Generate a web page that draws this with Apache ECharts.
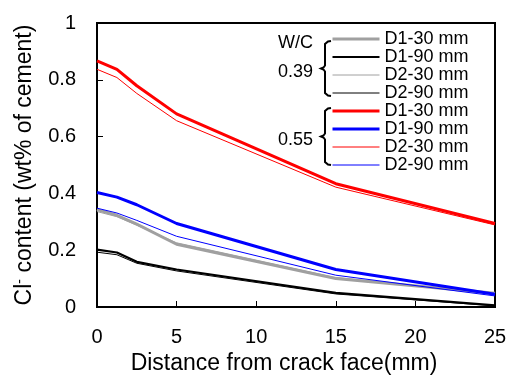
<!DOCTYPE html>
<html>
<head>
<meta charset="utf-8">
<script src="https://cdn.jsdelivr.net/npm/echarts@6/dist/echarts.min.js"></script>
<style>
  html, body { margin: 0; padding: 0; background: #fff; }
  #chart { width: 508px; height: 381px; }
</style>
</head>
<body>
<div id="chart"></div>
<script>
// distance from crack face (mm)
const distance = [0, 1.25, 2.5, 5, 15, 25];
const xTicks = [0, 5, 10, 15, 20, 25];
const yTicks = [0, 0.2, 0.4, 0.6, 0.8, 1];

// W/C 0.39
const d1_30_039 = [0.343, 0.323, 0.292, 0.221, 0.100, 0.048];
const d1_90_039 = [0.202, 0.192, 0.159, 0.132, 0.050, 0.006];
const d2_30_039 = [0.336, 0.318, 0.288, 0.226, 0.104, 0.046];
const d2_90_039 = [0.193, 0.184, 0.154, 0.127, 0.046, 0.004];
// W/C 0.55
const d1_30_055 = [0.867, 0.837, 0.779, 0.680, 0.434, 0.294];
const d1_90_055 = [0.403, 0.387, 0.360, 0.294, 0.132, 0.045];
const d2_30_055 = [0.837, 0.808, 0.752, 0.656, 0.422, 0.289];
const d2_90_055 = [0.348, 0.331, 0.305, 0.249, 0.112, 0.039];

const FONT = 'Arial, "Liberation Sans", sans-serif';

const lines = [
  { name: 'D1-30 mm (0.39)', values: d1_30_039, color: '#a0a0a0', width: 3 },
  { name: 'D1-90 mm (0.39)', values: d1_90_039, color: '#000000', width: 2.2 },
  { name: 'D2-30 mm (0.39)', values: d2_30_039, color: '#a0a0a0', width: 1 },
  { name: 'D2-90 mm (0.39)', values: d2_90_039, color: '#000000', width: 1 },
  { name: 'D1-30 mm (0.55)', values: d1_30_055, color: '#ff0000', width: 3 },
  { name: 'D1-90 mm (0.55)', values: d1_90_055, color: '#0000ff', width: 3 },
  { name: 'D2-30 mm (0.55)', values: d2_30_055, color: '#ff0000', width: 1 },
  { name: 'D2-90 mm (0.55)', values: d2_90_055, color: '#0000ff', width: 1 }
];

// curly brace drawn as a polyline
function brace(x, top, bottom) {
  const mid = (top + bottom) / 2;
  const b = x - 6;
  return [
    [x, top], [x - 3, top + 0.5], [b, top + 3], [b, mid - 3],
    [b - 1.5, mid - 1], [b - 4, mid], [b - 1.5, mid + 1], [b, mid + 3],
    [b, bottom - 3], [x - 3, bottom - 0.5], [x, bottom]
  ];
}

const chart = echarts.init(document.getElementById('chart'), null, { renderer: 'canvas' });

const option = {
  backgroundColor: '#fff',
  animation: false,
  textStyle: { fontFamily: FONT, color: '#000' },
  grid: {
    left: 97, right: 13, top: 23, bottom: 74,
    show: true, borderColor: '#000', borderWidth: 2,
    outerBoundsMode: 'none'
  },
  legend: {
    orient: 'vertical',
    left: 331, top: 30,
    itemWidth: 47, itemHeight: 10, itemGap: 0,
    padding: 0,
    data: lines.map(l => ({
      name: l.name,
      itemStyle: { opacity: 0 },
      lineStyle: { width: l.width, color: l.color }
    })),
    formatter: name => name.split(' (')[0],
    textStyle: { fontFamily: FONT, fontSize: 18, color: '#000', lineHeight: 17.8 }
  },
  xAxis: {
    type: 'value',
    min: xTicks[0], max: xTicks[xTicks.length - 1], interval: 5,
    name: 'Distance from crack face(mm)',
    nameLocation: 'middle', nameGap: 39,
    nameTextStyle: { fontFamily: FONT, fontSize: 23, color: '#000', padding: [0, 24, 0, 0] },
    axisLine: { lineStyle: { color: '#000', width: 2 } },
    axisTick: { inside: true, length: 6, lineStyle: { color: '#000', width: 1 } },
    axisLabel: { margin: 20, fontFamily: FONT, fontSize: 20, color: '#000' },
    splitLine: { show: false }
  },
  yAxis: {
    type: 'value',
    min: yTicks[0], max: yTicks[yTicks.length - 1], interval: 0.2,
    name: 'Cl{sup|-} content (wt% of cement)',
    nameLocation: 'middle', nameGap: 61, nameRotate: 90,
    nameTextStyle: {
      fontFamily: FONT, fontSize: 23, color: '#000',
      rich: { sup: { fontFamily: FONT, fontSize: 14, color: '#000', verticalAlign: 'top' } }
    },
    axisLine: { lineStyle: { color: '#000', width: 2 } },
    axisTick: { inside: true, length: 6, lineStyle: { color: '#000', width: 1 } },
    axisLabel: { margin: 21, fontFamily: FONT, fontSize: 20, color: '#000' },
    splitLine: { show: false }
  },
  series: lines.map(l => ({
    name: l.name,
    type: 'line',
    symbol: 'none',
    showSymbol: false,
    color: l.color,
    lineStyle: { color: l.color, width: l.width },
    data: distance.map((d, i) => [d, l.values[i]])
  })),
  graphic: [
    { type: 'text', left: 278, top: 34, style: { text: 'W/C', font: '18px ' + FONT, fill: '#000' } },
    { type: 'text', left: 278, top: 63, style: { text: '0.39', font: '18px ' + FONT, fill: '#000' } },
    { type: 'text', left: 278, top: 131, style: { text: '0.55', font: '18px ' + FONT, fill: '#000' } },
    { type: 'polyline', shape: { points: brace(331, 41, 96) }, style: { fill: null, stroke: '#000', lineWidth: 2 } },
    { type: 'polyline', shape: { points: brace(331, 108, 165) }, style: { fill: null, stroke: '#000', lineWidth: 2 } }
  ]
};

chart.setOption(option);
</script>
</body>
</html>
